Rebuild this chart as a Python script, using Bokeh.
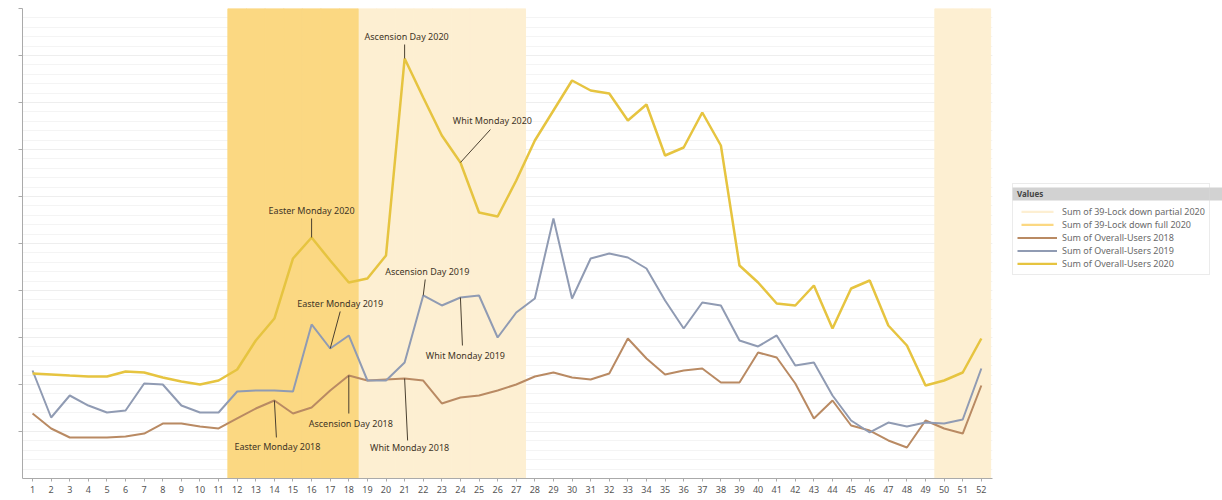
from bokeh.plotting import figure
from bokeh.layouts import row
from bokeh.models import (Range1d, FixedTicker, CustomJSTickFormatter, Legend,
                          LegendItem)
from bokeh.core.properties import value
from bokeh.embed import file_html
from bokeh.resources import INLINE

# ---------------- data ----------------
weeks = list(range(1, 53))
week_labels = [str(w) for w in weeks]

users_2018 = [1383, 1064, 872, 872, 872, 894, 957, 1170, 1170, 1106,
              1064, 1277, 1489, 1660, 1383, 1511, 1872, 2191, 2085, 2106,
              2128, 2085, 1596, 1723, 1766, 1872, 2000, 2170, 2255, 2149,
              2106, 2234, 2979, 2553, 2213, 2298, 2340, 2043, 2043, 2681,
              2574, 2021, 1277, 1660, 1128, 1021, 809, 660, 1234, 1064,
              957, 1979]

users_2019 = [2298, 1298, 1766, 1553, 1404, 1447, 2021, 2000, 1553, 1404,
              1404, 1851, 1872, 1872, 1851, 3277, 2766, 3043, 2085, 2085,
              2468, 3894, 3681, 3851, 3894, 3000, 3532, 3830, 5532, 3830,
              4681, 4787, 4702, 4468, 3787, 3191, 3745, 3681, 2936, 2809,
              3043, 2404, 2468, 1766, 1234, 979, 1191, 1106, 1191, 1170,
              1255, 2340]

users_2020 = [2234, 2213, 2191, 2170, 2170, 2277, 2255, 2149, 2064, 2000,
              2085, 2319, 2936, 3404, 4681, 5128, 4638, 4170, 4255, 4745,
              8936, 8106, 7298, 6723, 5660, 5574, 6340, 7191, 7830, 8468,
              8255, 8191, 7617, 7957, 6872, 7043, 7787, 7085, 4532, 4170,
              3723, 3681, 4106, 3191, 4043, 4213, 3255, 2830, 1979, 2085,
              2255, 2979]

lockdown_full_weeks = [12, 13, 14, 15, 16, 17, 18]
lockdown_partial_weeks = [19, 20, 21, 22, 23, 24, 25, 26, 27, 50, 51, 52]

series_names = ["Sum of 39-Lock down partial 2020",
                "Sum of 39-Lock down full 2020",
                "Sum of Overall-Users 2018",
                "Sum of Overall-Users 2019",
                "Sum of Overall-Users 2020"]
legend_title = "Values"

ann_labels = ["Ascension Day 2020", "Whit Monday 2020", "Easter Monday 2020",
              "Ascension Day 2019", "Easter Monday 2019", "Whit Monday 2019",
              "Ascension Day 2018", "Easter Monday 2018", "Whit Monday 2018"]
ann_weeks = [21, 24, 16, 22, 17, 24, 18, 14, 21]
ann_years = [2020, 2020, 2020, 2019, 2019, 2019, 2018, 2018, 2018]

# ---------------- styling / layout ----------------
X0, X1 = 0.46, 52.6
Y0, Y1 = 0, 10000
FRAME_W, FRAME_H = 970, 470
B_TOP, B_BOTTOM = 8, 22
PX_PER_WEEK = FRAME_W / (X1 - X0)
UNITS_PER_PX = (Y1 - Y0) / FRAME_H

# pixel offsets of each label (text dx, text dy, line end dx, line end dy)
ann_text_dx = [2, 32, 0, 4, 10, 5, 2, 3, 5]
ann_text_dy = [-22, -42, -27, -24, -45, 58, 48, 46, 69]
ann_line_dx = [0, 30, 0, 2, 10, 2, 0, 2, 3]
ann_line_dy = [-14, -33, -19, -16, -37, 48, 38, 37, 62]

C_FULL = "#fbd882"
C_PART = "#fdefd2"
C_2018 = "#b98a63"
C_2019 = "#909bb3"
C_2020 = "#e6c440"
FONT = "Noto Sans"

p = figure(frame_width=FRAME_W, frame_height=FRAME_H, output_backend="svg",
           toolbar_location=None,
           x_range=Range1d(X0, X1), y_range=Range1d(Y0, Y1),
           min_border_left=22, min_border_right=8, min_border_top=B_TOP,
           min_border_bottom=B_BOTTOM)
p.outline_line_color = None
p.background_fill_color = "white"

# lockdown bands
p.vbar(x=lockdown_partial_weeks, top=Y1, width=1.0, bottom=Y0,
       fill_color=C_PART, line_color=C_PART, line_width=1)
p.vbar(x=lockdown_full_weeks, top=Y1, width=1.0, bottom=Y0,
       fill_color=C_FULL, line_color=C_FULL, line_width=1)

p.line(weeks, users_2018, line_color=C_2018, line_width=2)
p.line(weeks, users_2019, line_color=C_2019, line_width=2)
p.line(weeks, users_2020, line_color=C_2020, line_width=2.5)

# holiday annotations
lookup = {2018: users_2018, 2019: users_2019, 2020: users_2020}
ax = [w for w in ann_weeks]
ay = [lookup[yr][w - 1] for yr, w in zip(ann_years, ann_weeks)]
lx = [x + dx / PX_PER_WEEK for x, dx in zip(ax, ann_line_dx)]
ly = [y - dy * UNITS_PER_PX for y, dy in zip(ay, ann_line_dy)]
p.segment(x0=ax, y0=ay, x1=lx, y1=ly, line_color="#4a4030", line_width=1)
p.text(x=ax, y=ay, text=ann_labels, x_offset=ann_text_dx, y_offset=ann_text_dy,
       text_align="center", text_baseline="middle", text_font=value(FONT),
       text_font_size="9px", text_color="#3f3526")

# axes
p.xaxis.ticker = FixedTicker(ticks=weeks)
p.xaxis.major_label_overrides = {w: s for w, s in zip(weeks, week_labels)}
p.xaxis.major_label_text_font = FONT
p.xaxis.major_label_text_font_size = "9px"
p.xaxis.major_label_text_color = "#555555"
p.xaxis.major_label_standoff = 4
p.xaxis.major_tick_out = 3
p.xaxis.major_tick_in = 0
p.xaxis.minor_tick_line_color = None
p.xaxis.axis_line_color = "#aaaaaa"
p.xaxis.major_tick_line_color = "#aaaaaa"

p.yaxis.ticker = FixedTicker(ticks=list(range(1000, 10001, 1000)),
                             minor_ticks=list(range(200, 10001, 200)))
p.yaxis.formatter = CustomJSTickFormatter(code="return ''")
p.yaxis.major_tick_out = 4
p.yaxis.major_tick_in = 0
p.yaxis.minor_tick_line_color = None
p.yaxis.axis_line_color = "#aaaaaa"
p.yaxis.major_tick_line_color = "#aaaaaa"

p.xgrid.grid_line_color = None
p.ygrid.grid_line_color = "#eeeeee"
p.ygrid.minor_grid_line_color = "#f4f4f4"
p.ygrid.level = "underlay"

# ---------------- legend panel ----------------
LW = 222
QX = -1000  # panel's x origin, so that the series swatch data stay out of view
q = figure(frame_width=LW, frame_height=FRAME_H, output_backend="svg",
           toolbar_location=None, x_range=Range1d(QX, QX + LW),
           y_range=Range1d(0, FRAME_H), min_border_left=0, min_border_right=0,
           min_border_top=B_TOP, min_border_bottom=B_BOTTOM,
           x_axis_location=None, y_axis_location=None)
q.grid.visible = False
q.outline_line_color = None

LEG_TOP = 195   # page y of the legend box top
LEG_H = 80
HEAD_TOP, HEAD_H = 187, 13
# grey header strip of the legend box
q.quad(left=[QX + 12], right=[QX + LW],
       top=[FRAME_H - (HEAD_TOP - B_TOP)],
       bottom=[FRAME_H - (HEAD_TOP + HEAD_H - B_TOP)],
       fill_color="#d2d2d2", line_color=None)

# legend swatches (the series themselves, lying outside this panel's view)
k_part = q.vbar(x=lockdown_partial_weeks, top=Y1, bottom=Y1 / 2, width=1,
                fill_color=C_PART, line_color=None)
k_full = q.vbar(x=lockdown_full_weeks, top=Y1, bottom=Y1 / 2, width=1,
                fill_color=C_FULL, line_color=None)
k18 = q.line(weeks, users_2018, line_color=C_2018, line_width=2)
k19 = q.line(weeks, users_2019, line_color=C_2019, line_width=2)
k20 = q.line(weeks, users_2020, line_color=C_2020, line_width=2.5)

legend = Legend(items=[LegendItem(label=series_names[0], renderers=[k_part]),
                       LegendItem(label=series_names[1], renderers=[k_full]),
                       LegendItem(label=series_names[2], renderers=[k18]),
                       LegendItem(label=series_names[3], renderers=[k19]),
                       LegendItem(label=series_names[4], renderers=[k20])],
                location=(12, FRAME_H + B_TOP - LEG_TOP - LEG_H),
                title=legend_title, margin=0,
                title_text_font=FONT, title_text_font_size="8px",
                title_text_font_style="bold", title_text_color="#444444",
                title_standoff=6,
                label_text_font=FONT, label_text_font_size="9px",
                label_text_color="#6a6a6a", label_height=9,
                glyph_height=3, glyph_width=40, spacing=0, padding=4,
                label_standoff=5,
                background_fill_alpha=0, border_line_color="#d8d8d8")
q.add_layout(legend)

layout = row(p, q)
open("out.html", "w").write(file_html(layout, INLINE))
